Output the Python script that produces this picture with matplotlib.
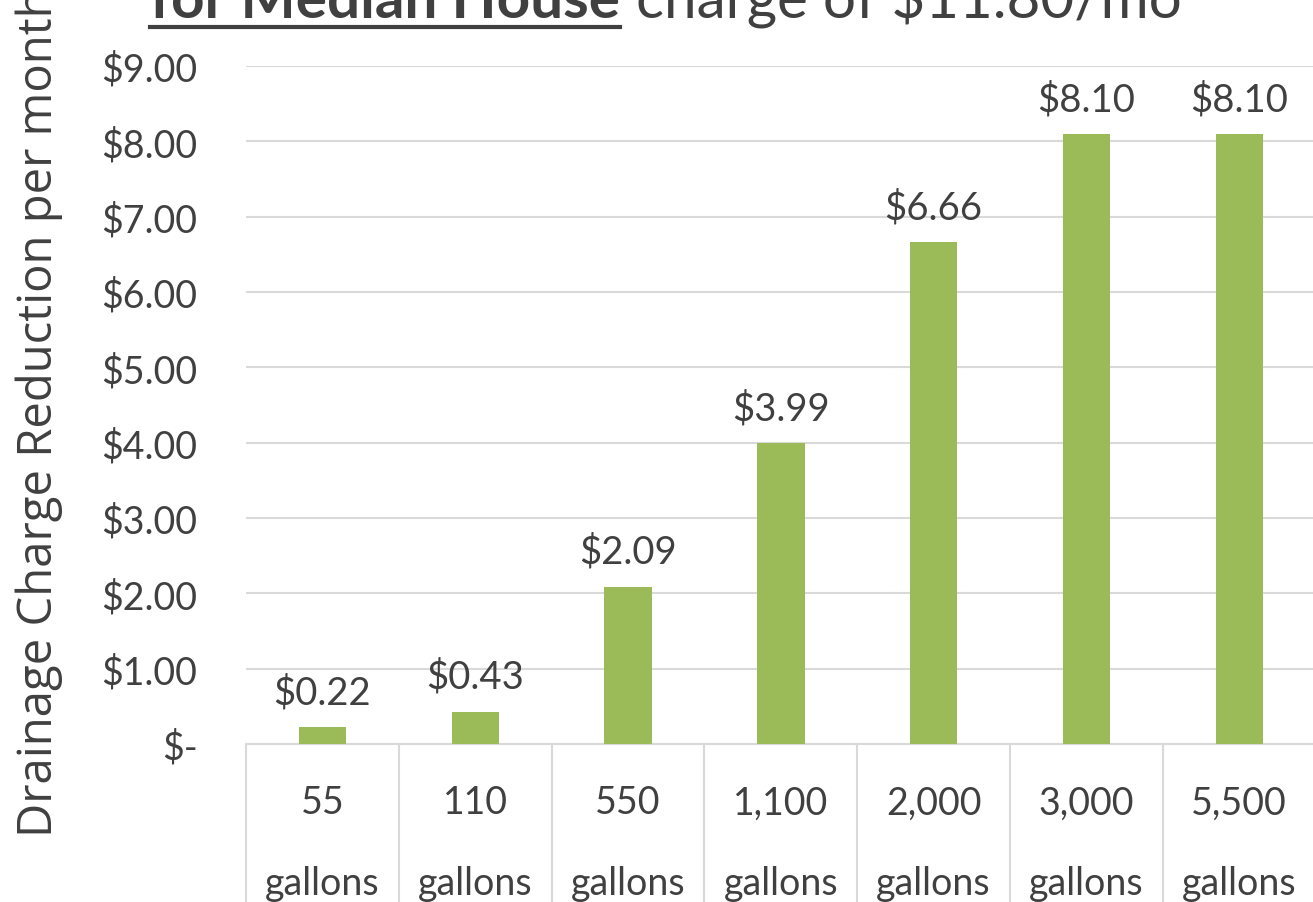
import matplotlib.pyplot as plt
from matplotlib.lines import Line2D

# Chart data
tank_sizes = ["55", "110", "550", "1,100", "2,000", "3,000", "5,500"]
unit = "gallons"
reduction = [0.22, 0.43, 2.09, 3.99, 6.66, 8.10, 8.10]
yticks = [0, 1, 2, 3, 4, 5, 6, 7, 8, 9]

TEXT = "#404040"
GRID = "#D9D9D9"
BAR = "#9BBB59"
FONT = "Lato"

fig = plt.figure(figsize=(13.13, 9.03), dpi=100)
ax = fig.add_axes([0.1874, 0.175, 0.8146, 0.7508])

x = list(range(len(tank_sizes)))
ax.bar(x, reduction, width=0.31, color=BAR, zorder=3)

for xi, v in zip(x, reduction):
    ax.annotate(f"${v:.2f}", (xi, v), xytext=(0, 12), textcoords="offset points",
                ha="center", va="bottom", fontsize=27.5, color=TEXT, family=FONT)

ax.set_xlim(-0.5, len(tank_sizes) - 0.5)
ax.set_ylim(0, 9)
ax.set_yticks(yticks)
ax.set_yticklabels(["$-" if t == 0 else f"${t:.2f}" for t in yticks],
                   fontsize=27, color=TEXT, family=FONT)
ax.grid(axis="y", color=GRID, linewidth=1.5, zorder=0)

ax.set_xticks(x)
ax.set_xticklabels([f"{s}\n{unit}" for s in tank_sizes], fontsize=27,
                   color=TEXT, family=FONT, linespacing=2.55)
ax.tick_params(axis="x", which="major", length=0, pad=29)
ax.tick_params(axis="y", length=0, pad=35)

# category separators as long minor ticks
ax.set_xticks([i - 0.5 for i in range(len(tank_sizes) + 1)], minor=True)
ax.tick_params(axis="x", which="minor", direction="out", length=120,
               width=1.5, color=GRID)

for side in ["top", "right", "left"]:
    ax.spines[side].set_visible(False)
ax.spines["bottom"].set_color(GRID)
ax.spines["bottom"].set_linewidth(1.5)

fig.text(0.03, 0.543, "Drainage Charge Reduction per month", rotation=90,
         ha="center", va="center", fontsize=34, color=TEXT, family="Open Sans")

# partially cut-off title line
base = 1 - 18 / 903
t1 = fig.text(0.114, base, "for Median House", ha="left", va="baseline",
              fontsize=42, fontweight="bold", color=TEXT, family=FONT)
fig.canvas.draw()
bb = t1.get_window_extent()
fig.text((bb.x1 + 16) / fig.bbox.width, base, "charge of $11.80/mo",
         ha="left", va="baseline", fontsize=42, color=TEXT, family=FONT)
uy = 1 - 27.5 / 903
fig.add_artist(Line2D([bb.x0 / fig.bbox.width, bb.x1 / fig.bbox.width], [uy, uy],
                      color=TEXT, linewidth=3, transform=fig.transFigure))

fig.savefig("out.png", dpi=100)
